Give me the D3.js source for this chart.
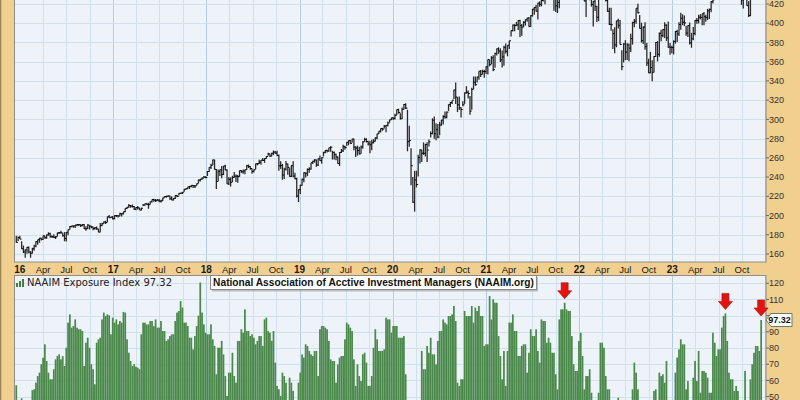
<!DOCTYPE html>
<html><head><meta charset="utf-8">
<script src="https://cdn.jsdelivr.net/npm/d3@7"></script>
<style>html,body{margin:0;padding:0;background:#f1cf8f;}svg{display:block}</style>
</head><body>
<svg id="chart" width="800" height="400"></svg>
<script>
// ---- DATA ----
const firstWeek = "2015-12-18"; // Friday of first weekly bar; one bar per week
const pxHigh = [
179.0,178.1,178.9,
173.3,168.9,165.0,167.2,167.8,162.8,166.6,169.6,173.3,174.9,176.8,176.9,179.1,179.1,180.4,182.5,182.0,179.2,180.5,178.7,182.0,182.9,184.1,181.6,182.9,182.9,185.5,189.0,189.4,189.7,190.2,190.9,191.1,191.0,191.2,191.2,188.8,191.0,189.8,189.5,188.7,188.1,188.5,186.2,192.2,192.5,193.8,194.5,198.8,200.6,198.8,199.4,
200.4,200.6,200.2,202.8,202.3,204.0,207.5,208.8,212.0,210.9,211.6,210.0,209.0,210.0,208.1,208.2,212.0,212.3,212.8,213.3,214.5,216.8,217.4,217.2,217.3,217.2,216.4,218.6,220.0,220.7,220.8,220.9,220.0,218.3,221.1,221.4,223.2,223.7,224.4,227.5,228.3,229.8,230.6,231.6,231.7,231.4,233.2,237.6,237.9,239.6,241.0,240.8,
246.4,250.1,253.9,257.9,258.1,248.3,248.0,248.0,251.5,251.6,252.9,248.2,240.2,239.9,241.3,245.2,242.8,242.2,246.9,247.0,247.9,247.8,252.4,253.1,251.4,249.0,247.8,254.0,254.6,257.9,257.7,259.9,259.6,261.6,265.4,264.4,265.2,267.7,267.2,267.3,263.4,256.5,253.7,249.8,256.8,253.9,249.4,252.3,256.4,244.6,239.4,227.4,
232.1,238.5,244.9,244.5,249.0,250.2,254.9,257.0,258.7,258.2,259.5,262.5,260.6,266.2,267.8,268.5,270.5,272.0,267.3,266.6,264.2,261.5,265.9,269.2,273.5,272.7,276.5,278.2,278.6,279.8,279.9,272.0,272.7,271.6,272.9,277.3,280.9,280.3,277.9,277.5,278.7,279.5,281.3,285.1,287.8,290.5,291.2,294.2,293.8,297.8,299.8,301.7,
302.2,305.9,310.2,311.1,306.5,312.3,316.0,316.9,310.0,293.3,270.0,240.2,246.5,246.6,263.1,268.9,268.4,276.1,274.6,276.2,279.0,287.4,301.1,303.1,296.0,295.1,297.4,299.5,304.3,308.3,308.1,315.6,318.2,319.6,330.7,338.4,323.2,323.7,312.6,318.9,328.0,334.5,330.1,324.2,333.0,344.6,344.5,344.4,350.1,351.3,351.7,351.7,355.3,
362.4,362.1,365.8,366.8,369.4,373.6,375.0,373.9,371.6,376.5,379.0,377.1,381.8,392.5,398.6,399.0,401.4,403.4,403.5,399.2,402.2,403.9,405.6,406.6,408.2,415.0,416.8,418.9,421.3,422.8,424.1,429.0,430.0,433.8,437.0,437.0,431.7,428.3,428.9,425.3,429.8,438.0,442.7,453.4,453.1,453.8,456.5,453.3,454.2,456.5,455.0,462.8,
463.7,457.1,451.4,427.0,442.5,442.3,431.1,423.0,426.2,418.0,430.3,438.1,447.1,443.3,432.6,435.7,416.0,416.2,393.7,395.9,402.6,404.6,403.3,372.0,379.3,382.4,379.2,378.9,389.0,401.6,404.4,415.7,420.2,408.5,400.6,396.9,401.1,379.5,363.1,370.2,361.4,365.9,380.4,381.4,390.3,393.3,394.0,401.0,398.9,401.8,379.4,376.6,
382.2,392.0,393.1,401.0,411.0,409.3,408.0,397.4,397.8,400.8,390.0,396.1,403.3,405.5,408.8,409.4,409.9,411.7,408.7,414.9,415.2,423.1,426.5,438.3,433.0,438.9,439.1,446.1,451.6,453.2,451.6,447.5,444.7,442.4,449.5,447.0,447.2,441.3,429.5,427.2,434.1,435.0,423.0,433.4,438.1,448.7,453.8,457.1,458.6,471.0
];
const pxLow = [
171.8,173.6,175.5,
165.1,161.1,156.0,160.3,160.9,156.0,160.6,163.4,166.9,169.5,171.7,174.1,174.5,175.7,175.9,179.0,176.8,176.6,176.6,175.6,178.3,180.7,181.1,178.1,173.2,173.1,179.4,185.5,187.7,187.2,187.1,188.9,189.1,188.0,188.9,186.1,184.1,186.0,185.6,186.8,184.8,185.2,185.1,182.5,182.5,188.9,191.4,191.3,192.9,197.5,197.4,195.9,
196.2,198.6,198.0,199.3,198.9,201.2,203.3,206.8,208.0,208.2,208.4,205.7,205.5,206.2,205.7,205.3,209.8,210.2,211.2,207.0,211.5,213.6,214.4,214.1,215.3,213.8,213.5,215.0,218.4,218.6,219.3,216.4,215.8,215.6,217.3,219.0,220.9,222.3,222.4,224.8,226.8,227.6,227.7,229.3,228.7,228.7,231.1,233.5,235.4,237.3,238.7,238.8,
241.0,245.3,248.4,252.5,247.9,227.7,235.4,241.0,238.9,242.1,247.2,232.7,231.7,230.1,234.9,239.3,235.0,234.2,240.4,244.6,243.4,243.0,247.7,249.5,247.6,243.4,244.8,248.1,252.2,253.7,252.7,257.1,254.8,259.2,262.1,260.9,261.6,262.8,264.3,261.8,246.6,248.5,237.2,238.1,246.9,242.5,240.3,240.1,239.8,237.7,218.8,214.1,
222.5,230.9,234.7,239.5,241.0,244.5,247.7,253.7,255.0,250.6,251.6,256.8,253.8,261.5,264.7,265.6,266.4,266.4,258.2,258.2,257.6,253.9,251.6,265.1,266.0,268.5,272.2,273.1,274.8,275.6,268.0,261.0,262.4,263.6,264.2,269.4,276.7,276.0,272.9,264.8,268.0,275.0,277.1,279.4,284.7,286.4,288.1,290.5,286.6,292.6,296.7,299.4,
299.3,299.9,304.2,305.9,299.8,300.3,310.2,310.8,266.8,271.6,231.6,213.2,204.1,229.2,240.5,254.0,255.8,263.1,261.3,255.6,271.8,281.2,284.5,279.9,278.3,280.5,283.5,293.4,294.8,300.7,301.1,308.8,312.9,315.9,321.2,315.9,307.6,309.8,301.9,313.6,316.1,326.8,321.6,304.9,310.1,331.4,334.9,338.3,341.3,344.0,346.7,343.2,347.2,
346.6,355.2,357.5,350.1,353.6,366.5,368.2,359.6,353.9,355.9,368.6,365.6,373.1,386.2,391.3,391.7,397.2,392.9,385.6,386.9,395.9,397.6,401.5,396.3,396.4,406.9,408.9,412.2,403.8,417.2,417.6,422.6,419.7,424.8,432.0,429.2,424.5,413.0,411.8,410.6,415.5,429.6,435.6,441.4,445.2,448.9,440.0,432.9,440.5,440.8,433.6,456.2,
449.1,443.6,422.9,406.5,424.9,424.0,417.3,396.7,412.7,401.4,402.1,426.2,434.5,429.2,422.7,411.8,398.2,392.3,373.1,368.7,375.0,394.5,377.9,351.2,359.2,361.6,361.7,360.5,370.0,377.8,395.7,399.5,410.0,394.5,379.8,378.3,372.3,355.6,348.2,347.9,339.7,348.7,364.8,360.3,365.1,381.3,385.3,384.7,381.6,374.5,367.1,368.8,
367.6,378.8,380.4,386.7,393.3,398.0,397.2,387.0,385.8,378.0,374.5,382.2,387.6,399.4,399.8,404.0,398.0,398.0,401.5,403.3,404.4,411.3,420.4,424.2,427.2,426.0,431.5,433.5,444.6,443.8,441.9,440.2,428.9,431.6,435.9,438.9,439.7,426.5,419.0,415.4,425.4,418.1,406.4,407.3,429.3,437.8,448.6,450.0,452.4,457.0
];
const pxClose = [
172.2,177.1,175.5,
165.4,162.1,164.2,167.0,162.1,160.8,165.5,168.2,172.8,174.9,176.4,175.2,179.0,177.0,179.8,180.9,178.5,178.0,177.3,177.9,182.0,182.2,182.0,179.0,176.2,182.6,185.3,188.5,189.2,189.1,190.2,190.5,190.5,189.5,190.5,186.2,186.3,190.1,189.0,188.1,186.5,187.3,186.0,182.7,189.6,191.4,193.3,192.7,198.8,197.7,198.5,196.6,
199.9,199.8,199.5,202.0,201.9,204.0,207.5,208.7,210.3,209.8,209.3,206.6,208.3,208.0,205.7,207.6,210.8,212.3,211.7,211.2,214.3,216.6,216.0,215.4,215.9,214.9,215.2,218.4,219.8,220.1,220.3,217.4,216.2,217.9,220.9,219.9,223.1,223.3,224.3,227.3,227.8,229.8,230.4,231.4,230.9,230.8,233.1,236.9,237.9,238.9,240.0,239.6,
245.8,250.1,252.2,257.9,248.0,235.4,245.9,247.6,242.6,251.5,247.3,232.9,237.6,234.6,239.6,240.9,241.0,240.5,246.8,245.4,246.3,247.6,251.9,250.9,248.9,245.9,247.7,253.7,253.9,255.5,257.6,257.3,259.2,261.4,264.1,261.7,264.8,266.0,264.9,262.4,251.7,252.0,242.1,248.2,253.7,250.0,240.8,251.9,241.0,238.2,220.3,226.9,
231.5,237.6,244.5,244.1,248.0,248.4,254.9,256.5,257.8,252.5,258.9,257.0,260.1,265.8,267.8,267.2,270.4,271.1,265.7,263.7,261.0,254.1,265.6,267.2,271.6,270.8,276.1,278.1,275.0,279.6,271.1,270.2,267.7,264.1,271.3,276.6,279.3,277.0,274.5,273.6,275.6,277.3,280.7,285.0,287.7,290.5,289.9,293.1,293.8,296.2,299.5,301.6,
301.1,304.3,310.2,307.2,300.6,310.4,315.5,311.7,276.9,278.1,251.8,213.9,237.0,232.2,260.3,268.2,264.8,264.7,273.8,268.1,276.6,285.1,299.2,285.1,289.4,281.6,294.1,299.2,303.1,302.3,307.6,315.3,317.4,320.0,330.6,323.2,315.2,312.0,310.3,315.2,327.6,328.2,326.8,308.6,331.1,338.6,336.1,344.1,350.1,346.8,349.8,349.8,354.6,
362.2,356.9,363.9,351.8,368.6,373.4,371.0,361.9,365.0,375.0,370.8,377.1,381.7,392.3,398.1,397.5,398.2,402.8,397.6,396.0,401.0,403.6,405.3,396.5,407.8,414.6,416.5,412.6,420.9,419.7,423.7,427.0,426.8,433.4,436.1,428.7,424.9,427.4,418.1,421.7,429.4,436.4,442.4,451.4,450.3,451.9,442.5,437.2,454.0,444.0,454.6,458.9,
450.3,448.9,423.1,426.9,433.4,425.5,419.5,422.9,417.6,406.2,429.9,437.9,438.2,433.1,423.8,412.5,398.9,398.4,389.2,377.5,402.5,397.9,377.9,354.8,378.4,370.0,377.4,374.1,384.0,400.6,402.2,415.6,410.9,394.6,381.9,396.0,375.7,358.7,348.4,353.9,349.0,365.4,379.9,367.7,389.5,387.2,393.4,398.0,384.8,375.2,375.0,374.7,
381.1,391.4,388.9,398.6,405.2,401.0,400.3,389.8,397.5,379.6,383.7,389.4,403.0,402.9,406.2,406.0,409.9,406.8,405.9,412.9,414.4,422.4,424.4,434.0,427.9,438.0,433.6,444.4,447.4,452.1,442.4,441.3,432.3,435.8,447.0,441.5,439.6,426.9,424.2,426.3,428.4,418.2,407.9,431.9,437.8,448.1,452.7,456.6,457.8,467.4
];
const naaim = [
57,45,40,49,30,25,30,28,35,54,
54.5,58.6,62.7,64.8,70,74,82.3,72,64.8,60.7,
60.7,66.9,73,75,76.1,73,75,68.9,80.2,95.7,
100.8,92.6,93.6,97.7,92.6,91.6,91.6,90.5,68.9,83.3,
86.4,80.2,70,66.9,57.6,83.3,85.4,86.4,97.7,101.9,
99.8,100.8,100.2,88.5,98.8,95.7,97.7,94.6,96.7,95.7,
102.3,101.9,85.4,77.1,72,68.9,70,68.5,67.9,66.9,
88.5,95.7,95.7,94.6,94.6,96.7,96.7,93.6,97.7,92.6,
92.6,96.7,90.5,90.5,84.4,85.4,87.4,88.5,88.5,96.7,
101.9,102.9,109,105,95.7,95.7,93.6,86.4,86.4,79.2,
87.4,93.6,100,120.5,101.9,94.6,89.5,88.5,88.5,94.6,
85.4,81.3,63.8,80.2,80.2,84.4,76.1,62.7,50.4,64.8,
64.8,77.1,62.7,58.6,84.4,84.4,91.6,89.5,103.9,90.5,
90.5,87.4,88.5,86.4,82.3,84.4,87.4,87.4,81.3,97.7,
98.8,90.5,89.5,84.4,90.5,71,56.6,54.5,50.4,64.8,
62.7,58.6,40,61.7,58.6,53.5,35,30,58.6,64.8,
76.1,74.1,82.3,81.3,78.2,76.1,75.1,78.2,78.2,62.7,
91.6,93.6,93.6,92.6,91.6,84.4,73,72,72,58.6,
69.9,74.1,75.1,75.1,85.4,95.7,94.6,92.6,90.5,73,
56.6,69.9,62.7,59.6,76.1,77.1,71,56.6,56.6,62.7,
80.2,91.6,85.4,78.2,78.2,78.2,79.2,98.8,97.7,97.7,
89.5,93.6,93.6,93.6,86.4,86.4,86.4,87.4,63.8,45,
38,30,20,25,35,40,45,78.2,66.9,66.9,
81.3,77.1,86.4,76.1,76.1,69.9,84.4,90.5,90.5,97.7,
95.7,94.6,99.8,99.8,100.8,106,96.7,58.6,56.6,60.7,
60.7,102.9,99.8,99.8,99.8,106,95.7,105,102.9,106,
99.8,99.8,81.3,82.3,82.3,112.1,97.7,110.1,108,108,
87.4,75.1,60.7,78.2,56.6,78.2,95.7,95.7,100.8,90.5,
90.5,75.1,75.1,81.3,82.3,82.3,64.8,77.1,91.6,87.4,
87.4,91.6,78.2,71,97.7,96.7,96.7,83.3,86.4,83.3,
77.1,77.1,63.8,54.5,97.7,103.9,103.9,108,103.9,102.9,
102.9,87.4,70,65.8,65.8,84.4,89.5,75.1,54.5,62.7,
62.7,66.9,52.4,42,38,40,52.4,83.3,83.3,80.2,
62.7,54.5,54.5,40,33,30,25,49.3,35,28,
22,30,35,40,45,54.5,71,64.8,54.5,42,
35,30,35,30,38,42,45,53.5,54.5,46,
64.8,62.7,63.8,58.6,72,44,38,42,45,64.8,
74.1,79.2,85.4,82.3,82.3,54.5,59.6,45,42,61.7,
72,59.6,78.2,52.4,65.8,65.8,64.8,61.7,52.4,52.4,
89.5,83.3,75.1,79.2,79.2,92.6,99.8,101.4,84.4,64.8,
60.7,60.7,53.5,56.6,53.5,42,38,35,65.8,40,
45,60.7,70,77.1,81.3,81.3,78.2,97.32
];
const priceTicks = [160,180,200,220,240,260,280,300,320,340,360,380,400,420];
const naaimTicks = [50,60,70,80,90,100,110,120];
const yearLabels = ["16","17","18","19","20","21","22","23"];
const monthLabels = ["Apr","Jul","Oct"];
const arrowDates = ["2021-11-05","2023-07-28","2023-12-15"];
const legendText = "NAAIM Exposure Index 97.32";
const lastValueText = "97.32";
const titleText = "National Association of Acctive Investment Managers (NAAIM.org)";

// ---- LAYOUT ----
const svg = d3.select("#chart");
const L = 14.5, R = 766, upTop = 0, upBot = 262, loTop = 275.5, loBot = 400;
const parse = d3.timeParse("%Y-%m-%d");
const t0 = parse(firstWeek);
const weeks = naaim.map((_, i) => d3.timeDay.offset(t0, 7 * i));

const x = d3.scaleTime().domain([new Date(2015, 11, 13), new Date(2024, 0, 3)]).range([15, 766]);
const yP = d3.scaleLinear().domain([160, 420]).range([254, 4]);
const yN = d3.scaleLinear().domain([50, 120]).range([396.6, 283.3]);

const tan = "#f1cf8f", plotBg = "#eef3fa", gridC = "#cfe0ee", gridY = "#b3cde2";

svg.append("rect").attr("width", 800).attr("height", 400).attr("fill", tan);
svg.append("rect").attr("x", 0).attr("y", 0).attr("width", 1.3).attr("height", 400).attr("fill", "#9a8755");

const defs = svg.append("defs");
defs.append("clipPath").attr("id", "cu").append("rect").attr("x", L).attr("y", upTop).attr("width", R - L).attr("height", upBot - upTop);
defs.append("clipPath").attr("id", "cl").append("rect").attr("x", L).attr("y", loTop).attr("width", R - L).attr("height", loBot - loTop + 5);

svg.append("rect").attr("x", L).attr("y", upTop).attr("width", R - L).attr("height", upBot - upTop).attr("fill", plotBg);
svg.append("rect").attr("x", L).attr("y", loTop).attr("width", R - L).attr("height", loBot - loTop + 5).attr("fill", plotBg);

// vertical grid at quarter starts
const quarters = d3.timeMonth.every(3).range(new Date(2016, 3, 1), new Date(2024, 0, 2));
const gU = svg.append("g").attr("clip-path", "url(#cu)");
const gL = svg.append("g").attr("clip-path", "url(#cl)");
[gU, gL].forEach((g, k) => {
  const y1 = k === 0 ? upTop : loTop, y2 = k === 0 ? upBot : loBot + 5;
  g.selectAll("line.v").data(quarters).join("line")
    .attr("x1", d => Math.round(x(d)) + 0.5).attr("x2", d => Math.round(x(d)) + 0.5)
    .attr("y1", y1).attr("y2", y2)
    .attr("stroke", d => d.getMonth() === 0 ? gridY : gridC).attr("stroke-width", 1);
});
gU.selectAll("line.h").data(priceTicks).join("line")
  .attr("x1", L).attr("x2", R).attr("y1", d => Math.round(yP(d)) + 0.5).attr("y2", d => Math.round(yP(d)) + 0.5)
  .attr("stroke", gridC);
gL.selectAll("line.h").data(naaimTicks).join("line")
  .attr("x1", L).attr("x2", R).attr("y1", d => Math.round(yN(d)) + 0.5).attr("y2", d => Math.round(yN(d)) + 0.5)
  .attr("stroke", gridC);

// histogram
gL.selectAll("rect.bar").data(naaim).join("rect")
  .attr("x", (d, i) => x(weeks[i]) - 0.87).attr("width", 1.74)
  .attr("y", d => yN(d)).attr("height", d => Math.max(0, loBot + 5 - yN(d)))
  .attr("fill", "#4b894b");

// price bars (high-low + close tick)
const pb = gU.append("g");
pb.selectAll("line.hl").data(pxHigh).join("line")
  .attr("x1", (d, i) => x(weeks[i])).attr("x2", (d, i) => x(weeks[i]))
  .attr("y1", d => yP(d)).attr("y2", (d, i) => yP(pxLow[i]))
  .attr("stroke", "#2b2b2b").attr("stroke-width", 1.3);
pb.selectAll("line.c").data(pxClose).join("line")
  .attr("x1", (d, i) => x(weeks[i])).attr("x2", (d, i) => x(weeks[i]) + 1.7)
  .attr("y1", d => yP(d)).attr("y2", d => yP(d))
  .attr("stroke", "#000").attr("stroke-width", 1);

// borders
svg.append("rect").attr("x", L).attr("y", -1).attr("width", R - L).attr("height", upBot + 1)
  .attr("fill", "none").attr("stroke", "#8e8e8e").attr("stroke-width", 1);
svg.append("rect").attr("x", L).attr("y", loTop).attr("width", R - L).attr("height", loBot - loTop + 5)
  .attr("fill", "none").attr("stroke", "#8e8e8e").attr("stroke-width", 1);

// right axes
const ax = svg.append("g").attr("font-family", "'Liberation Sans', Arial, sans-serif").attr("font-size", 9).attr("fill", "#333");
ax.selectAll("line.tp").data(priceTicks).join("line")
  .attr("x1", R).attr("x2", R + 3).attr("y1", d => yP(d)).attr("y2", d => yP(d)).attr("stroke", "#666");
ax.selectAll("text.tp").data(priceTicks).join("text")
  .attr("x", R + 3).attr("y", d => yP(d)).attr("dy", "0.35em").text(d => d);
ax.selectAll("line.tn").data(naaimTicks).join("line")
  .attr("x1", R).attr("x2", R + 3).attr("y1", d => yN(d)).attr("y2", d => yN(d)).attr("stroke", "#666");
ax.selectAll("text.tn").data(naaimTicks).join("text")
  .attr("x", R + 3).attr("y", d => yN(d)).attr("dy", "0.35em").text(d => d);

// x axis labels
const xl = svg.append("g").attr("font-family", "'Liberation Sans', Arial, sans-serif").attr("fill", "#1a1a1a").attr("text-anchor", "middle");
const yearDates = yearLabels.map((s, k) => new Date(2016 + k, 0, 1));
xl.selectAll("text.yr").data(yearDates).join("text")
  .attr("x", d => Math.max(16.5, x(d))).attr("y", 272.5)
  .attr("font-size", 10).attr("font-weight", "bold").text((d, k) => yearLabels[k]);
const monthDates = quarters.filter(d => d.getMonth() !== 0);
xl.selectAll("text.mo").data(monthDates).join("text")
  .attr("x", d => x(d)).attr("y", 272.5).attr("font-size", 9.5)
  .text(d => monthLabels[d.getMonth() / 3 - 1]);

// legend
const lg = svg.append("g");
[[16, 283, 4], [19, 281, 6], [22, 279, 8]].forEach(r => {
  lg.append("rect").attr("x", r[0]).attr("y", r[1]).attr("width", 2).attr("height", r[2]).attr("fill", "#3f7f3f");
});
lg.append("text").attr("x", 27).attr("y", 286).attr("font-family", "'DejaVu Sans', Verdana, sans-serif")
  .attr("font-size", 10).attr("fill", "#222").text(legendText);

// title box
const tb = svg.append("g");
tb.append("rect").attr("x", 212).attr("y", 277).attr("width", 326).attr("height", 14.5).attr("fill", "#9a9a9a").attr("opacity", 0.6);
tb.append("rect").attr("x", 210.5).attr("y", 275.5).attr("width", 326).attr("height", 14).attr("fill", "#fff").attr("stroke", "#8a8a8a");
tb.append("text").attr("x", 373.5).attr("y", 286.3).attr("text-anchor", "middle")
  .attr("font-family", "'Liberation Sans', Arial, sans-serif").attr("font-weight", "bold").attr("font-size", 10.2)
  .attr("fill", "#111").text(titleText);

// red arrows
const idxOf = s => weeks.findIndex(w => d3.timeFormat("%Y-%m-%d")(w) === s);
const arr = svg.append("g");
arrowDates.forEach(s => {
  const i = idxOf(s);
  const cx = x(weeks[i]), ty = yN(naaim[i]) - 4;
  const p = d3.path();
  p.moveTo(cx - 3.5, ty - 16); p.lineTo(cx + 3.5, ty - 16); p.lineTo(cx + 3.5, ty - 8);
  p.lineTo(cx + 7, ty - 8); p.lineTo(cx, ty); p.lineTo(cx - 7, ty - 8); p.lineTo(cx - 3.5, ty - 8); p.closePath();
  arr.append("path").attr("d", p.toString()).attr("fill", "#e3140f").attr("stroke", "#a80c08").attr("stroke-width", 0.6);
});

// last value callout
const lv = yN(naaim[naaim.length - 1]);
const cp = d3.path();
cp.moveTo(R, lv); cp.lineTo(R + 5, lv - 6.5); cp.lineTo(792, lv - 6.5); cp.lineTo(792, lv + 6.5); cp.lineTo(R + 5, lv + 6.5); cp.closePath();
svg.append("path").attr("d", cp.toString()).attr("fill", "#fff").attr("stroke", "#6b7b6b").attr("stroke-width", 1);
svg.append("text").attr("x", 779.5).attr("y", lv).attr("dy", "0.36em").attr("text-anchor", "middle")
  .attr("font-family", "'Liberation Sans', Arial, sans-serif").attr("font-weight", "bold").attr("font-size", 9)
  .attr("fill", "#111").text(lastValueText);
</script>
</body></html>
